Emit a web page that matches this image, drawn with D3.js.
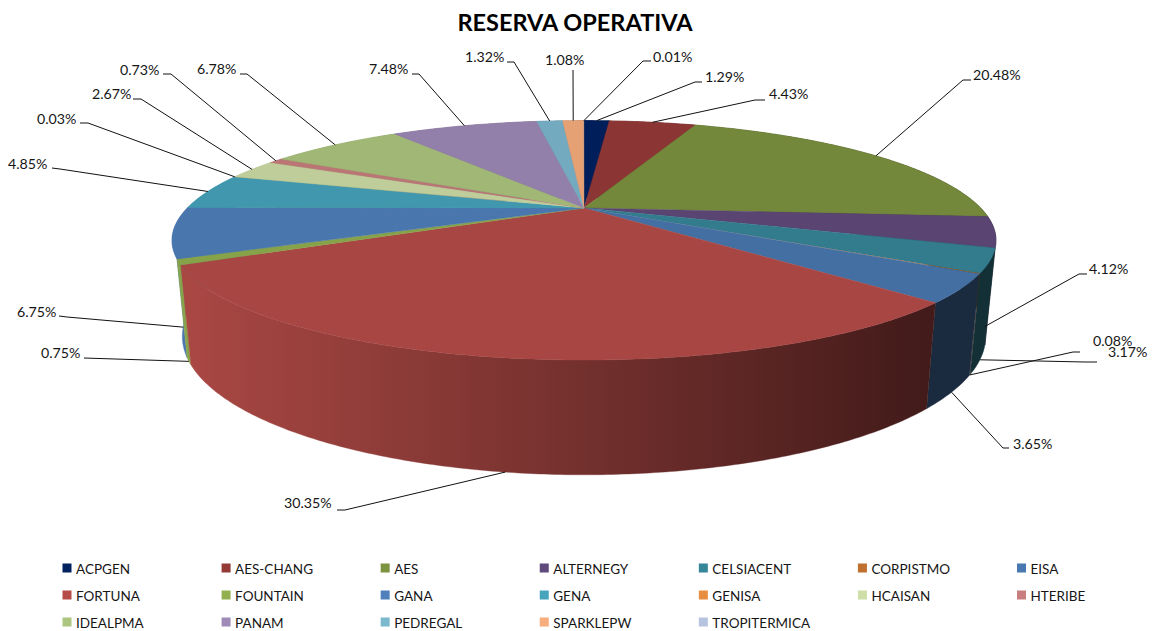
<!DOCTYPE html>
<html><head><meta charset="utf-8">
<script src="https://cdn.jsdelivr.net/npm/d3@7"></script>
<style>
html,body{margin:0;padding:0;background:#fff;overflow:hidden}
text{font-family:Lato,"Open Sans",sans-serif;fill:#161616}
</style></head><body>
<svg id="c" width="1153" height="631"></svg>
<script>
const title = "RESERVA OPERATIVA";
const categories = ["ACPGEN","AES-CHANG","AES","ALTERNEGY","CELSIACENT","CORPISTMO","EISA","FORTUNA","FOUNTAIN","GANA","GENA","GENISA","HCAISAN","HTERIBE","IDEALPMA","PANAM","PEDREGAL","SPARKLEPW","TROPITERMICA"];
const values = [1.29,4.43,20.48,4.12,3.17,0.08,3.65,30.35,0.75,6.75,4.85,0.03,2.67,0.73,6.78,7.48,1.32,1.08,0.01];
const colors = ["#002060","#963a38","#7c933f","#604a7b","#36869a","#c0702f","#4a78b0","#b64c48","#92b050","#5080bc","#46a4bc","#e88e40","#cddea6","#c97f7f","#adc67f","#9f8ab8","#7cb8ce","#f8ad7c","#b7c4df"];

// label placement: text left x, text centre y, elbow start, elbow end
const labelX    = [705,769,973,1089,1108,1093,1013,284,41,17,8,37,92,120,197,369,465,545,653];
const labelY    = [77,94,75,269,352,341,444,503,353,312,164,119,94,70,69,69,57,60,57];
const elbowA    = [[695,82],[755,100],[963,80],[1079,274],[1085,362],[1073,352],[1003,448],[345,510],[84,358],[67,317],[60,169],[88,123],[141,99],[171,74],[247,74],[419,74],[514,62],[573,70],[643,61]];
const elbowB    = [[702,82],[765,100],[971,80],[1087,274],[1097,362],[1080,352],[1009,448],[337,510],[84,358],[59,316],[52,168],[80,123],[133,99],[163,74],[240,74],[412,74],[507,62],[573,70],[651,61]];

const svg = d3.select("#c");

// perspective projection of the unit disc
const cx = 584, cy = 208, persp = 0.27, ampX = 396.7, ampY = 111;
const top3 = a => {
  const u = Math.sin(a), v = -Math.cos(a), w = 1 - persp * v;
  return [cx + ampX * u / w, cy + ampY * v / w];
};
const bottom3 = a => {
  const p = top3(a);
  return [cx + 0.975 * (p[0] - cx), 299 + 1.156 * (p[1] - cy)];
};
const arcs = d3.pie().sort(null).value(d => d)(values);
const samples = d => {
  const n = Math.max(2, Math.ceil((d.endAngle - d.startAngle) / 0.01));
  return d3.range(n + 1).map(i => d.startAngle + (d.endAngle - d.startAngle) * i / n);
};
const line = d3.line();

// wall gradients
const defs = svg.append("defs");
const shade = (c, f) => { const r = d3.rgb(c); return d3.rgb(r.r * f, r.g * f, r.b * f).formatHex(); };
arcs.forEach((d, i) => {
  const g = defs.append("linearGradient").attr("id", "w" + i)
    .attr("gradientUnits", "userSpaceOnUse").attr("x1", 190).attr("x2", 926).attr("y1", 0).attr("y2", 0);
  g.append("stop").attr("offset", 0).attr("stop-color", shade(colors[i], 0.93));
  g.append("stop").attr("offset", 0.45).attr("stop-color", shade(colors[i], 0.68));
  g.append("stop").attr("offset", 1).attr("stop-color", shade(colors[i], 0.36));
});

// walls, back to front
const depth = d => -Math.cos((d.startAngle + d.endAngle) / 2);
const order = arcs.map((d, i) => i).sort((a, b) => depth(arcs[a]) - depth(arcs[b]));
svg.append("g").selectAll("path").data(order).join("path")
  .attr("d", i => {
    const s = samples(arcs[i]);
    return line(s.map(top3).concat(s.slice().reverse().map(bottom3))) + "Z";
  })
  .attr("fill", i => `url(#w${i})`)
  .attr("stroke", i => `url(#w${i})`)
  .attr("stroke-width", i => values[i] < 0.5 ? 0 : 0.4);

// top face
svg.append("g").selectAll("path").data(arcs).join("path")
  .attr("d", d => line([[cx, cy]].concat(samples(d).map(top3))) + "Z")
  .attr("fill", (d, i) => shade(colors[i], 0.925))
  .attr("stroke", (d, i) => shade(colors[i], 0.925))
  .attr("stroke-width", (d, i) => values[i] < 0.5 ? 0 : 0.4);

// leaders
const anchor = d => {
  const a = (d.startAngle + d.endAngle) / 2;
  return -Math.cos(a) > 0 ? bottom3(a) : top3(a);
};
svg.append("g").selectAll("path").data(arcs).join("path")
  .attr("d", (d, i) => line([anchor(d), elbowA[i], elbowB[i]]))
  .attr("fill", "none").attr("stroke", "#111").attr("stroke-width", 1);

const fmt = d3.format(".2f");
svg.append("g").selectAll("text").data(values).join("text")
  .attr("x", (d, i) => labelX[i]).attr("y", (d, i) => labelY[i] + 5)
  .attr("font-size", 14.2)
  .text(d => fmt(d) + "%");

svg.append("text").attr("x", 575).attr("y", 31).attr("text-anchor", "middle")
  .attr("font-size", 23.5).attr("font-weight", 700).style("fill", "#000").text(title);

// legend
const colX = d3.scalePoint().domain(d3.range(7)).range([62.5, 1017]);
const rowY = d3.scalePoint().domain(d3.range(3)).range([568, 622]);
const lg = svg.append("g").selectAll("g").data(categories).join("g")
  .attr("transform", (d, i) => `translate(${colX(i % 7)},${rowY(Math.floor(i / 7))})`);
lg.append("rect").attr("x", 0).attr("y", -4.5).attr("width", 9).attr("height", 9)
  .attr("fill", (d, i) => colors[i]);
lg.append("text").attr("x", 13.5).attr("y", 5.5).attr("font-size", 13.5).text(d => d);
</script>
</body></html>
